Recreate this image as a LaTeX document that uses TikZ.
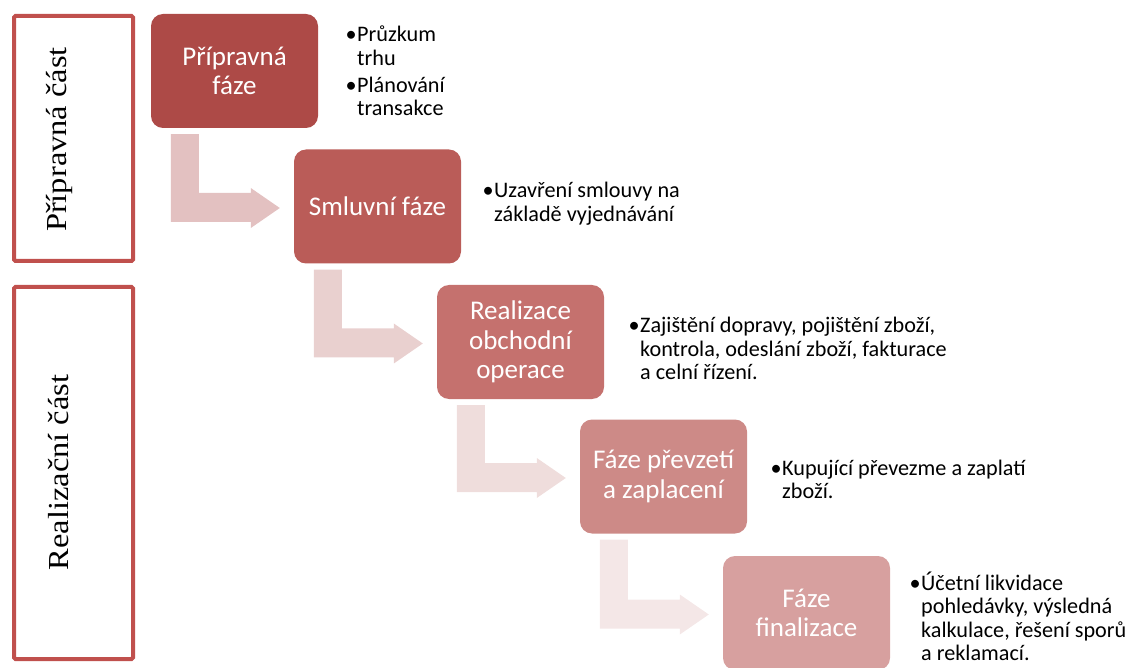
\documentclass[tikz,border=0pt]{standalone}
\usepackage{fontspec}
\usepackage{graphicx}
\setmainfont{Carlito}
\newfontfamily\partfont{Liberation Serif}
\usetikzlibrary{calc}

\definecolor{partred}{RGB}{192,80,77}
\definecolor{ph1}{RGB}{173,74,71}
\definecolor{ph2}{RGB}{186,92,88}
\definecolor{ph3}{RGB}{197,113,110}
\definecolor{ph4}{RGB}{205,138,135}
\definecolor{ph5}{RGB}{215,160,159}
\definecolor{arr1}{RGB}{227,193,193}
\definecolor{arr2}{RGB}{233,208,207}
\definecolor{arr3}{RGB}{239,221,220}
\definecolor{arr4}{RGB}{244,231,231}

\newcommand\bulletmark{\makebox[11.5pt][l]{\textbullet}}

\begin{document}
\begin{tikzpicture}[x=1pt,y=-1pt,
  phase/.style={rounded corners=12pt, minimum width=167pt, minimum height=114pt,
    inner sep=2pt, text=white, align=center, font=\fontsize{27}{29.5}\selectfont},
  partbox/.style={draw=partred, line width=4pt, rounded corners=1.5pt, rotate=90,
    minimum height=119pt, inner sep=0pt},
  partlabel/.style={rotate=90, inner sep=0pt, font=\partfont\fontsize{29}{32}\selectfont},
  notes/.style={anchor=base west, inner sep=0pt, font=\fontsize{22.2}{23.5}\selectfont}]

\useasboundingbox (0,0) rectangle (1125,668);
\clip (0,0) rectangle (1125,668);

% the two parts of the process
\node[partbox, minimum width=245pt] (part1) at (73.5,138.5) {};
\node[partbox, minimum width=372pt] (part2) at (73.5,473) {};
\node[partlabel] (part1label) at (59,139.5) {\scalebox{1.12}[1]{Přípravná část}};
\node[partlabel] (part2label) at (59,472.5) {\scalebox{1.12}[1]{Realizační část}};

% the phases
\node[phase, fill=ph1] (b1) at (234.5,71)  {Přípravná\\fáze};
\node[phase, fill=ph2] (b2) at (377.5,206.5) {Smluvní fáze};
\node[phase, fill=ph3] (b3) at (520.5,342) {Realizace\\obchodní\\operace};
\node[phase, fill=ph4] (b4) at (663.5,476.5) {Fáze převzetí\\a zaplacení};
\node[phase, fill=ph5] (b5) at (806.5,613) {Fáze\\finalizace};

% bent block arrows between consecutive phases
\foreach \from/\to/\col in {b1/b2/arr1, b2/b3/arr2, b3/b4/arr3, b4/b5/arr4}{
  \coordinate (s) at ($(\from.south west)+(20,6)$);
  \coordinate (t) at ($(\to.west)+(-14,1.5)$);
  \fill[\col] (s) -- ++(28,0) |- ($(t)+(-29,-15)$) -- ++(0,-5) -- (t)
    -- ++(-29,20) -- ++(0,-6) -| (s) -- cycle;
}

% notes beside each phase
\node[notes] (n1) at (345.5,42) {\begin{tabular}[t]{@{}l@{}l@{}}
  \bulletmark & Průzkum\\ & trhu\\[3.5pt]
  \bulletmark & Plánování\\ & transakce\end{tabular}};
\node[notes] (n2) at (482.5,198) {\begin{tabular}[t]{@{}l@{}l@{}}
  \bulletmark & Uzavření smlouvy na\\ & základě vyjednávání\end{tabular}};
\node[notes] (n3) at (628.5,333) {\begin{tabular}[t]{@{}l@{}l@{}}
  \bulletmark & Zajištění dopravy, pojištění zboží,\\
  & kontrola, odeslání zboží, fakturace\\ & a celní řízení.\end{tabular}};
\node[notes] (n4) at (770.5,475) {\begin{tabular}[t]{@{}l@{}l@{}}
  \bulletmark & Kupující převezme a zaplatí\\ & zboží.\end{tabular}};
\node[notes] (n5) at (909.5,590) {\begin{tabular}[t]{@{}l@{}l@{}}
  \bulletmark & Účetní likvidace\\ & pohledávky, výsledná\\
  & kalkulace, řešení sporů\\ & a reklamací.\end{tabular}};
\end{tikzpicture}
\end{document}
